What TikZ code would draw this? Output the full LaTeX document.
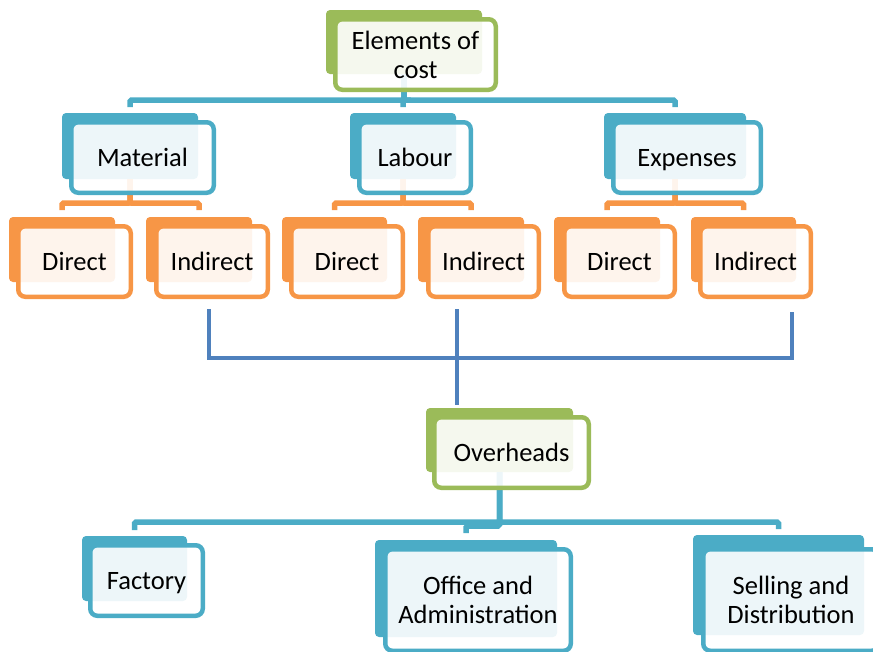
\documentclass[tikz,border=0pt]{standalone}
\usepackage{fontspec}
\setmainfont{Carlito}
\usetikzlibrary{fit}
\definecolor{cgreen}{HTML}{9BBB59}
\definecolor{cteal}{HTML}{4BACC6}
\definecolor{corange}{HTML}{F79646}
\definecolor{cblue}{HTML}{4F81BD}
\tikzset{
  backbox/.style={draw=none, fill=#1, rounded corners=4pt, inner sep=0pt, outer sep=0pt},
  frontbox/.style={draw=#1, line width=4.5pt, fill=white, fill opacity=0.9, text opacity=1,
    rounded corners=7pt, inner sep=0pt, outer sep=0pt, align=center, anchor=center,
    minimum height=70.5pt, font=\fontsize{26.5}{29}\selectfont},
  oneline/.style={text height=17.5pt, text depth=0pt},
  conn/.style={draw=#1, line width=5.5pt, rounded corners=1.5pt},
  bline/.style={draw=cblue, line width=3.5pt},
}
\begin{document}
\begin{tikzpicture}[x=1pt, y=-1pt]
\useasboundingbox (0,0) rectangle (873,651);
\clip (0,0) rectangle (873,651);
% back boxes
\node[backbox=cgreen, fit={(326,10) (482,74)}] (elB) {};
\node[backbox=cteal, fit={(62,113) (198,179)}] (matB) {};
\node[backbox=cteal, fit={(350,113) (456,179)}] (labB) {};
\node[backbox=cteal, fit={(604,113) (746,179)}] (expB) {};
\node[backbox=corange, fit={(9,217) (115,282)}] (mdB) {};
\node[backbox=corange, fit={(146,217) (252,282)}] (miB) {};
\node[backbox=corange, fit={(282,217) (387,282)}] (ldB) {};
\node[backbox=corange, fit={(418,217) (524,282)}] (liB) {};
\node[backbox=corange, fit={(554,217) (660,282)}] (edB) {};
\node[backbox=corange, fit={(691,217) (796,282)}] (eiB) {};
\node[backbox=cgreen, fit={(426,408) (573,472)}] (ovB) {};
\node[backbox=cteal, fit={(82,536) (187,601)}] (facB) {};
\node[backbox=cteal, fit={(375,540) (557,637)}] (offB) {};
\node[backbox=cteal, fit={(693,535) (864,635)}] (selB) {};
% connectors
\draw[conn=cteal] (elB.south) -- ++(0,26) -| ([yshift=6pt]matB.north);
\draw[conn=cteal] (elB.south) -- ++(0,26) -| ([yshift=6pt]labB.north);
\draw[conn=cteal] (elB.south) -- ++(0,26) -| ([yshift=6pt]expB.north);
\draw[conn=corange] (matB.south) -- ++(0,24) -| ([yshift=7pt]mdB.north);
\draw[conn=corange] (matB.south) -- ++(0,24) -| ([yshift=7pt]miB.north);
\draw[conn=corange] (labB.south) -- ++(0,24) -| ([yshift=7pt]ldB.north);
\draw[conn=corange] (labB.south) -- ++(0,24) -| ([yshift=7pt]liB.north);
\draw[conn=corange] (expB.south) -- ++(0,24) -| ([yshift=7pt]edB.north);
\draw[conn=corange] (expB.south) -- ++(0,24) -| ([yshift=7pt]eiB.north);
\draw[conn=cteal] (ovB.south) -- ++(0,50) -| ([yshift=6pt]facB.north);
\draw[conn=cteal] (ovB.south) -- ++(0,50) -| ([yshift=6pt]selB.north);
\draw[conn=cteal] (ovB.south) -- ++(0,54) -| ([yshift=7pt]offB.north);
% blue joining lines
\coordinate (b1) at (209,309);
\coordinate (b2) at (457,309);
\coordinate (b3) at (792,312);
\coordinate (hub) at (457,358);
\draw[bline] (b1) |- (hub) -| (b3);
\draw[bline, shorten >=3pt] (b2) -- (b2 |- ovB.north);
% front boxes
\node[frontbox=cgreen, minimum width=160.5pt] (el) at (415.5,54.5) {Elements of\\cost};
\node[frontbox=cteal, oneline, minimum width=142.5pt] (mat) at (142.5,157.5) {Material};
\node[frontbox=cteal, oneline, minimum width=111.5pt] (lab) at (415,157.5) {Labour};
\node[frontbox=cteal, oneline, minimum width=147.5pt] (exp) at (687,157.5) {Expenses};
\node[frontbox=corange, oneline, minimum width=112.5pt] (md) at (74.5,261.5) {Direct};
\node[frontbox=corange, oneline, minimum width=111.5pt] (mi) at (212,261.5) {Indirect};
\node[frontbox=corange, oneline, minimum width=111.5pt] (ld) at (347,261.5) {Direct};
\node[frontbox=corange, oneline, minimum width=110.5pt] (li) at (483.5,261.5) {Indirect};
\node[frontbox=corange, oneline, minimum width=110.5pt] (ed) at (619.5,261.5) {Direct};
\node[frontbox=corange, oneline, minimum width=110.5pt] (ei) at (755.5,261.5) {Indirect};
\node[frontbox=cgreen, oneline, minimum width=154.5pt] (ov) at (511.5,452.5) {Overheads};
\node[frontbox=cteal, oneline, minimum width=112.5pt] (fac) at (146.5,580.5) {Factory};
\node[frontbox=cteal, minimum width=185.5pt, minimum height=101.5pt] (off) at (478,600) {Office and\\Administration};
\node[frontbox=cteal, minimum width=175.5pt, minimum height=101.5pt] (sel) at (791,600) {Selling and\\Distribution};
\end{tikzpicture}
\end{document}
